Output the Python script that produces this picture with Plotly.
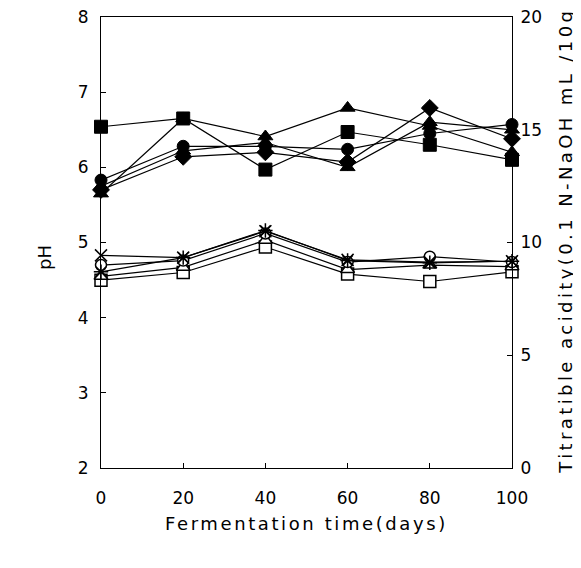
import plotly.graph_objects as go

days = [0, 20, 40, 60, 80, 100]

# pH (left axis, filled symbols)
ph_square = [6.54, 6.65, 5.97, 6.47, 6.30, 6.10]
ph_triangle = [5.65, 6.65, 6.41, 6.79, 6.55, 6.20]
ph_circle = [5.83, 6.28, 6.28, 6.24, 6.45, 6.57]
ph_diamond = [5.70, 6.14, 6.20, 6.07, 6.79, 6.38]
ph_triangle2 = [5.75, 6.22, 6.33, 6.00, 6.60, 6.50]

# Titratable acidity (right axis, open symbols)
ta_square = [8.33, 8.67, 9.80, 8.60, 8.27, 8.70]
ta_triangle = [8.50, 8.90, 10.10, 8.80, 9.00, 8.93]
ta_circle = [9.00, 9.20, 10.40, 9.13, 9.37, 9.13]
ta_cross = [9.43, 9.33, 10.50, 9.23, 9.13, 9.17]
ta_star = [8.70, 9.33, 10.53, 9.20, 9.10, 9.17]

x_ticks = [0, 20, 40, 60, 80, 100]
ph_ticks = [2, 3, 4, 5, 6, 7, 8]
ta_ticks = [0, 5, 10, 15, 20]

FONT = "DejaVu Sans"
fig = go.Figure()

line = dict(color="black", width=1.2)

filled = [
    (ph_square, "square", 13),
    (ph_triangle, "triangle-up", 13),
    (ph_circle, "circle", 12),
    (ph_diamond, "diamond", 13),
    (ph_triangle2, "triangle-up", 13),
]
for vals, sym, sz in filled:
    fig.add_trace(go.Scatter(
        x=days, y=vals, mode="lines+markers", line=line,
        marker=dict(symbol=sym, size=sz, color="black",
                    line=dict(color="black", width=1)),
        cliponaxis=False, showlegend=False, yaxis="y"))

opened = [
    (ta_square, "square", 12, "white"),
    (ta_triangle, "triangle-up", 12, "white"),
    (ta_circle, "circle", 11, "white"),
    (ta_cross, "x-thin-open", 12, "black"),
    (ta_star, "asterisk-open", 12, "black"),
]
for vals, sym, sz, fc in opened:
    fig.add_trace(go.Scatter(
        x=days, y=vals, mode="lines+markers", line=line,
        marker=dict(symbol=sym, size=sz, color=fc,
                    line=dict(color="black", width=1.5)),
        cliponaxis=False, showlegend=False, yaxis="y2"))

axis_common = dict(
    showgrid=False, zeroline=False, showline=True, linecolor="black",
    linewidth=1.2, ticks="inside", ticklen=5, tickcolor="black",
    automargin=False, ticklabeloverflow="allow",
    tickfont=dict(family=FONT, size=17, color="black"),
)

fig.update_layout(
    width=573, height=560,
    margin=dict(l=93, r=69, t=9, b=100, autoexpand=False),
    paper_bgcolor="white", plot_bgcolor="white",
    xaxis=dict(range=[0, 100], tickvals=x_ticks, mirror=True,
               ticklabelstandoff=14, **axis_common),
    yaxis=dict(range=[2, 8], tickvals=ph_ticks, ticklabelstandoff=8,
               **axis_common),
    yaxis2=dict(range=[0, 20], tickvals=ta_ticks, overlaying="y",
                side="right", ticklabelstandoff=4, **axis_common),
    annotations=[
        dict(text='<span style="letter-spacing:2.6px">Fermentation time(days)</span>',
             x=0.5, y=-0.122, xref="paper", yref="paper",
             showarrow=False, font=dict(family=FONT, size=18, color="black"),
             xanchor="center", yanchor="middle"),
        dict(text="pH", x=-0.136, y=0.466, xref="paper", yref="paper",
             textangle=-90, showarrow=False,
             font=dict(family=FONT, size=18, color="black"),
             xanchor="center", yanchor="middle"),
        dict(text='<span style="letter-spacing:3.4px">Titratible acidity(0.1 N-NaOH mL /10g</span>',
             x=1.13, y=0.505, xref="paper", yref="paper",
             textangle=-90, showarrow=False,
             font=dict(family=FONT, size=18, color="black"),
             xanchor="center", yanchor="middle"),
    ],
)

fig.write_html("out.html")
